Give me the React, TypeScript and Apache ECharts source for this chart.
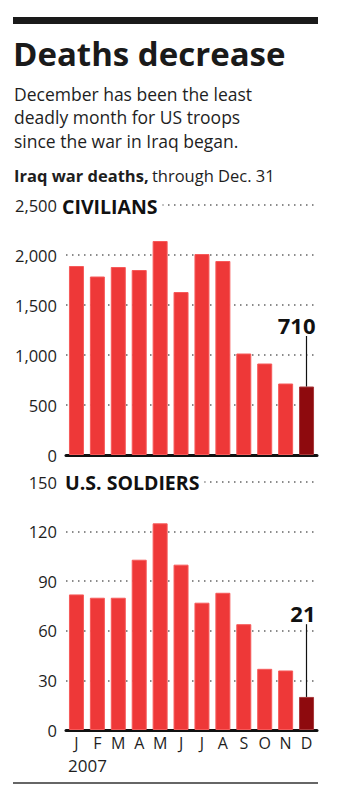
import React, { useEffect, useRef } from "react";
import * as echarts from "echarts";

const months = ["J", "F", "M", "A", "M", "J", "J", "A", "S", "O", "N", "D"];
const civilians = [1890, 1785, 1880, 1850, 2140, 1630, 2010, 1940, 1015, 915, 715, 685];
const soldiers = [82, 80, 80, 103, 125, 100, 77, 83, 64, 37, 36, 20];
const civilianAxis = { max: 2500, interval: 500 };
const soldierAxis = { max: 150, interval: 30 };
const highlightIndex = 11;
const civilianCallout = { text: "710", lineTop: 1190 };
const soldierCallout = { text: "21", lineTop: 64 };
const title = "Deaths decrease";
const subtitle = [
  "December has been the least",
  "deadly month for US troops",
  "since the war in Iraq began.",
];
const yearLabel = "2007";

const FONT = "'Open Sans', sans-serif";
const RED = "#ee3838";
const RED_EDGE = "#f65a5a";
const DARK = "#8e0a0e";
const DARK_EDGE = "#a8383a";
const INK = "#1e1e1e";

const fmt = (v: number) => v.toLocaleString("en-US");

function barData(values: number[]) {
  return values.map((v, i) =>
    i === highlightIndex
      ? { value: v, itemStyle: { color: DARK, borderColor: DARK_EDGE } }
      : v
  );
}

function valueAxis(gridIndex: number, axis: { max: number; interval: number }) {
  return {
    type: "value",
    gridIndex,
    min: 0,
    max: axis.max,
    interval: axis.interval,
    axisLine: { show: false },
    axisTick: { show: false },
    axisLabel: {
      formatter: (v: number) => fmt(v),
      fontFamily: FONT,
      fontSize: 16.5,
      color: INK,
      margin: 9,
    },
    splitLine: {
      show: true,
      showMinLine: false,
      lineStyle: { color: "#666", width: 1.5, type: [1.5, 4.5] },
    },
  };
}

function catAxis(gridIndex: number, showLabels: boolean) {
  return {
    type: "category",
    gridIndex,
    data: months,
    axisLine: { show: true, lineStyle: { color: "#111", width: 3 } },
    axisTick: { show: false },
    axisLabel: {
      show: showLabels,
      fontFamily: FONT,
      fontSize: 16,
      color: INK,
      margin: 5,
    },
  };
}

function callout(c: { text: string; lineTop: number }, value: number) {
  return {
    silent: true,
    symbol: "none",
    lineStyle: { color: "#111", width: 1.2, type: "solid" },
    label: {
      show: true,
      position: "end",
      formatter: c.text,
      fontFamily: FONT,
      fontWeight: "bold",
      fontSize: 22,
      color: "#111",
      distance: 0,
      align: "right",
      offset: [9, 0],
    },
    data: [
      [
        { coord: [highlightIndex, value] },
        { coord: [highlightIndex, c.lineTop] },
      ],
    ],
  };
}

export default function App() {
  const ref = useRef<HTMLDivElement>(null);
  useEffect(() => {
    document.body.style.margin = "0";
    const chart = echarts.init(ref.current!, null, { renderer: "svg" });
    chart.setOption({
      animation: false,
      backgroundColor: "#fff",
      grid: [
        { left: 66, right: 25, top: 205, height: 250 },
        { left: 66, right: 25, top: 482, height: 248 },
      ],
      xAxis: [catAxis(0, false), catAxis(1, true)],
      yAxis: [valueAxis(0, civilianAxis), valueAxis(1, soldierAxis)],
      series: [
        {
          type: "bar",
          xAxisIndex: 0,
          yAxisIndex: 0,
          data: barData(civilians),
          barWidth: 15,
          itemStyle: { color: RED, borderColor: RED_EDGE, borderWidth: 1 },
          markLine: callout(civilianCallout, civilians[highlightIndex]),
        },
        {
          type: "bar",
          xAxisIndex: 1,
          yAxisIndex: 1,
          data: barData(soldiers),
          barWidth: 15,
          itemStyle: { color: RED, borderColor: RED_EDGE, borderWidth: 1 },
          markLine: callout(soldierCallout, soldiers[highlightIndex]),
        },
      ],
      graphic: [
        { type: "rect", shape: { x: 13, y: 17, width: 305, height: 7 }, style: { fill: "#1a1a1a" } },
        {
          type: "text",
          x: 13,
          y: 53,
          style: {
            text: title,
            fontFamily: FONT,
            fontWeight: "bold",
            fontSize: 33,
            fill: "#1a1a1a",
            verticalAlign: "middle",
          },
        },
        ...subtitle.map((line, i) => ({
          type: "text",
          x: 14,
          y: 94 + i * 23.3,
          style: {
            text: line,
            fontFamily: FONT,
            fontSize: 17.5,
            fill: INK,
            verticalAlign: "middle",
          },
        })),
        {
          type: "text",
          x: 14,
          y: 175,
          style: {
            text: "{b|Iraq war deaths,} {r|through Dec. 31}",
            verticalAlign: "middle",
            rich: {
              b: { fontFamily: FONT, fontWeight: "bold", fontSize: 16.5, fill: INK },
              r: { fontFamily: FONT, fontSize: 16.5, fill: INK },
            },
          },
        },
        {
          type: "text",
          x: 61,
          y: 206,
          z: 100,
          style: {
            text: "CIVILIANS",
            fontFamily: FONT,
            fontWeight: "bold",
            fontSize: 19.5,
            fill: "#111",
            verticalAlign: "middle",
            backgroundColor: "#fff",
            padding: [0, 5, 0, 1],
          },
        },
        {
          type: "text",
          x: 64,
          y: 482,
          z: 100,
          style: {
            text: "U.S. SOLDIERS",
            fontFamily: FONT,
            fontWeight: "bold",
            fontSize: 19.5,
            fill: "#111",
            verticalAlign: "middle",
            backgroundColor: "#fff",
            padding: [0, 5, 0, 1],
          },
        },
        {
          type: "text",
          x: 68,
          y: 765,
          style: {
            text: yearLabel,
            fontFamily: FONT,
            fontSize: 17,
            fill: INK,
            verticalAlign: "middle",
          },
        },
        {
          type: "line",
          shape: { x1: 13, y1: 783, x2: 318, y2: 783 },
          style: { stroke: "#333", lineWidth: 1.5 },
        },
      ],
    });
    return () => chart.dispose();
  }, []);
  return <div ref={ref} style={{ width: 342, height: 800 }} />;
}
